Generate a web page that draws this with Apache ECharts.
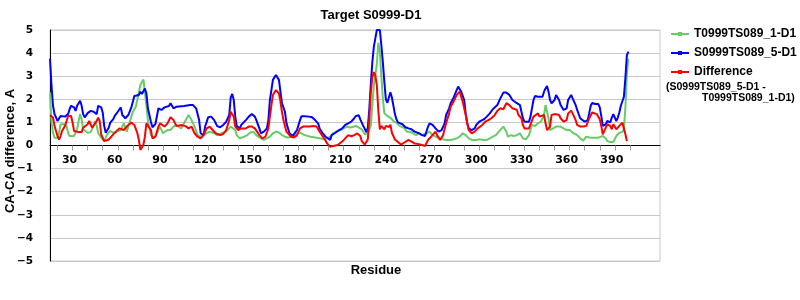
<!DOCTYPE html>
<html>
<head>
<meta charset="utf-8">
<script src="https://cdn.jsdelivr.net/npm/echarts@6/dist/echarts.min.js"></script>
<style>html,body{margin:0;padding:0;background:#fff;}#c{width:800px;height:300px;}</style>
</head>
<body>
<div id="c"></div>
<script>
const seriesNames = ['T0999TS089_1-D1', 'S0999TS089_5-D1', 'Difference'];
const xTickValues = [20,30,40,50,60,70,80,90,100,110,120,130,140,150,160,170,180,190,200,210,220,230,240,250,260,270,280,290,300,310,320,330,340,350,360,370,380,390,400];
const xLabelValues = [30,60,90,120,150,180,210,240,270,300,330,360,390];

// S0999TS089_5-D1 (blue): [residue, CA-CA distance]
const blueS5 = [[15,3.76],[16,2.6],[17,1.72],[18,1.36],[19,1.22],[20,1.06],[22,1.28],[25,1.25],[27,1.36],[28,1.57],[29,1.72],[31,1.65],[32,1.5],[33,1.72],[35,1.94],[36,1.72],[37,1.36],[38,1.22],[39,1.28],[40,1.4],[42,1.5],[44,1.46],[46,1.36],[47,1.72],[49,1.65],[50,1.43],[51,0.85],[52,0.55],[53,0.55],[54,0.77],[55,0.99],[57,1.14],[58,1.28],[60,1.46],[62,1.65],[63,1.32],[65,1.18],[67,1.32],[69,1.65],[71,2.14],[74,2.19],[75,2.33],[76,2.23],[78,2.47],[79,2.26],[80,1.61],[82,1.03],[83,0.79],[85,0.93],[87,1.61],[89,1.54],[91,1.65],[94,1.71],[95,1.83],[97,1.61],[99,1.68],[104,1.71],[108,1.75],[110,1.75],[112,1.61],[114,1.10],[115,0.53],[117,0.45],[118,0.82],[120,1.22],[122,1.25],[124,1.10],[126,0.84],[128,0.79],[130,0.89],[132,1.03],[134,1.32],[135,2.08],[136,2.23],[137,1.97],[138,1.25],[139,0.84],[141,0.74],[142,0.89],[145,1.10],[147,1.25],[149,1.36],[151,1.25],[152,1.10],[154,0.74],[155,0.53],[157,0.60],[159,0.74],[160,1.10],[161,1.97],[162,2.40],[163,2.84],[165,3.05],[166,3.12],[167,2.84],[168,2.33],[169,1.83],[171,1.46],[172,0.96],[174,0.53],[176,0.41],[177,0.45],[179,0.67],[181,1.10],[182,1.27],[184,1.27],[187,1.25],[189,1.22],[191,1.10],[193,0.96],[194,0.74],[196,0.53],[198,0.38],[199,0.31],[201,0.24],[202,0.45],[204,0.53],[207,0.67],[209,0.74],[211,0.89],[213,0.96],[215,1.03],[217,1.18],[218,1.28],[220,1.31],[221,1.13],[223,0.85],[225,0.58],[226,0.77],[227,1.57],[228,2.67],[229,3.6],[230,4.27],[231,4.64],[232,5.0],[233,5.0],[234,5.0],[235,4.34],[236,3.6],[237,2.74],[238,2.0],[239,1.85],[240,2.08],[241,2.3],[242,2.08],[243,1.72],[244,1.36],[245,1.14],[246,1.0],[249,0.92],[250,0.87],[251,0.79],[253,0.74],[255,0.70],[257,0.60],[260,0.53],[262,0.45],[264,0.41],[266,0.82],[267,0.96],[269,0.89],[271,0.74],[273,0.60],[275,0.67],[277,0.96],[278,1.32],[280,1.61],[281,1.83],[283,2.08],[285,2.40],[286,2.55],[287,2.47],[288,2.33],[290,1.97],[291,1.39],[292,0.96],[293,0.74],[295,0.67],[297,0.74],[298,0.89],[300,1.03],[303,1.13],[305,1.25],[307,1.39],[309,1.57],[312,1.75],[314,2.04],[316,2.29],[318,2.29],[320,2.19],[322,1.97],[323,2.04],[325,1.83],[327,1.75],[328,1.46],[329,1.18],[330,1.03],[333,1.03],[334,1.25],[336,1.97],[337,2.14],[339,2.11],[342,2.11],[343,2.33],[344,2.47],[345,2.58],[346,2.33],[347,1.97],[348,1.83],[350,1.97],[351,2.19],[353,1.97],[354,1.75],[356,1.54],[358,1.61],[359,1.97],[361,2.19],[362,2.04],[364,1.75],[365,1.54],[367,1.18],[368,1.10],[370,1.03],[372,1.10],[373,1.40],[374,1.72],[375,1.84],[376,1.9],[377,1.8],[378,1.72],[379,1.8],[380,1.65],[381,1.28],[382,0.85],[384,0.92],[385,1.06],[386,1.14],[387,1.0],[388,1.21],[389,1.36],[390,1.28],[391,1.06],[392,1.21],[393,1.43],[394,1.72],[395,1.75],[396,2.1],[397,2.9],[398,3.9],[399,4.06]];

// T0999TS089_1-D1 (green)
const greenT1 = [[15,2.3],[16,1.0],[17,0.55],[18,0.34],[20,0.34],[21,0.55],[22,0.92],[24,0.92],[26,0.85],[27,0.55],[28,0.41],[29,0.34],[31,0.41],[33,0.7],[34,1.06],[35,1.36],[36,1.14],[37,0.7],[38,0.63],[40,0.55],[42,0.58],[44,0.85],[45,1.06],[46,0.85],[47,0.55],[49,0.34],[51,0.19],[52,0.26],[53,0.48],[55,0.63],[57,0.55],[58,0.53],[62,0.67],[64,0.96],[66,0.60],[68,1.03],[70,1.46],[72,1.68],[75,2.62],[77,2.86],[79,1.75],[80,1.10],[82,0.45],[84,0.31],[86,0.53],[88,0.82],[90,0.53],[93,0.67],[95,0.67],[97,0.82],[99,0.89],[102,0.74],[104,0.96],[107,1.32],[109,1.10],[111,0.82],[113,0.45],[115,0.38],[117,0.45],[119,0.53],[121,0.60],[124,0.53],[126,0.45],[129,0.53],[132,0.60],[135,0.82],[136,0.89],[138,0.67],[139,0.45],[141,0.31],[144,0.38],[146,0.45],[148,0.56],[150,0.60],[152,0.45],[155,0.31],[157,0.24],[159,0.31],[161,0.38],[163,0.53],[165,0.60],[167,0.56],[169,0.45],[171,0.38],[173,0.35],[176,0.38],[179,0.53],[181,0.56],[184,0.45],[188,0.38],[191,0.35],[194,0.31],[197,0.27],[199,0.31],[201,0.38],[203,0.53],[205,0.60],[208,0.67],[210,0.74],[212,0.82],[214,0.78],[216,0.80],[218,0.85],[220,0.77],[222,0.70],[224,0.48],[226,0.55],[228,0.85],[229,1.72],[230,2.6],[231,3.03],[232,3.54],[233,4.45],[234,4.05],[235,3.0],[236,2.0],[237,1.4],[239,1.28],[241,1.2],[243,1.06],[245,0.99],[247,0.85],[250,0.77],[252,0.60],[254,0.60],[256,0.53],[258,0.45],[260,0.53],[262,0.45],[265,0.53],[267,0.60],[269,0.45],[272,0.35],[274,0.31],[276,0.27],[278,0.24],[281,0.24],[283,0.27],[285,0.31],[287,0.38],[289,0.53],[291,0.45],[293,0.31],[295,0.24],[298,0.24],[300,0.27],[303,0.24],[305,0.24],[307,0.31],[309,0.38],[311,0.45],[313,0.60],[314,0.67],[316,0.82],[317,0.89],[318,0.60],[319,0.38],[321,0.45],[323,0.41],[325,0.45],[327,0.53],[329,0.31],[331,0.27],[333,0.45],[335,0.89],[336,0.82],[337,0.84],[339,0.96],[341,1.03],[343,1.32],[344,1.75],[345,1.68],[346,1.18],[347,0.67],[348,0.60],[349,0.74],[351,0.82],[354,0.82],[356,0.74],[358,0.67],[360,0.67],[362,0.56],[365,0.45],[367,0.31],[369,0.21],[371,0.38],[374,0.34],[378,0.34],[380,0.36],[382,0.41],[384,0.30],[385,0.19],[387,0.15],[389,0.15],[390,0.19],[391,0.41],[393,0.55],[395,0.58],[396,0.70],[397,1.6],[398,3.1],[399,3.76]];

// Difference (red)
const redDiff = [[15,1.31],[16,1.36],[17,1.21],[18,0.85],[19,0.63],[20,0.41],[21,0.26],[22,0.41],[23,0.63],[25,0.85],[26,1.06],[27,1.28],[28,1.36],[29,1.28],[30,0.99],[31,0.63],[32,0.55],[34,0.58],[36,0.58],[37,0.77],[40,0.92],[41,1.06],[42,0.99],[43,0.77],[44,0.85],[46,1.06],[47,1.21],[48,1.06],[49,0.48],[51,0.19],[52,0.12],[54,0.26],[57,0.48],[61,0.74],[64,0.67],[67,0.89],[69,0.99],[71,0.89],[73,0.53],[74,0.24],[75,-0.19],[77,0.02],[78,0.38],[79,0.96],[80,1.03],[82,0.67],[83,0.31],[85,0.38],[87,0.82],[88,0.96],[91,0.82],[93,0.96],[95,1.22],[97,1.10],[99,0.84],[102,0.89],[105,0.84],[107,0.74],[109,0.82],[110,0.82],[111,0.53],[113,0.38],[115,0.31],[117,0.45],[119,0.74],[121,0.82],[123,0.67],[125,0.53],[128,0.45],[130,0.50],[132,0.67],[134,1.10],[135,1.46],[136,1.54],[137,1.25],[138,0.82],[140,0.67],[142,0.74],[145,0.74],[147,0.82],[149,0.82],[151,0.74],[154,0.45],[156,0.31],[158,0.38],[160,0.74],[161,1.25],[162,1.75],[163,2.19],[165,2.40],[166,2.47],[167,2.26],[168,1.90],[169,1.46],[170,1.10],[172,0.60],[175,0.38],[177,0.35],[179,0.45],[181,0.74],[183,0.82],[187,0.82],[190,0.84],[192,0.82],[194,0.60],[197,0.31],[199,0.09],[201,-0.05],[203,-0.02],[206,0.02],[209,0.17],[211,0.31],[213,0.45],[215,0.40],[217,0.45],[218,0.48],[219,0.52],[221,0.41],[222,0.19],[224,0.04],[226,0.26],[227,1.14],[228,2.3],[229,2.96],[230,3.18],[231,3.03],[232,2.6],[233,1.5],[234,0.7],[235,0.85],[236,0.77],[237,0.7],[238,0.85],[240,0.8],[241,0.9],[242,0.55],[243,0.41],[244,0.26],[246,0.15],[248,0.04],[250,0.12],[251,0.17],[253,0.24],[255,0.17],[257,0.09],[260,0.06],[262,0.02],[264,-0.02],[266,0.24],[267,0.31],[269,0.45],[271,0.60],[272,0.45],[274,0.24],[276,0.45],[278,0.96],[280,1.39],[281,1.68],[283,1.90],[285,2.19],[287,2.33],[288,2.26],[289,1.90],[291,1.32],[292,0.96],[293,0.67],[295,0.53],[297,0.60],[299,0.74],[302,0.89],[304,1.03],[306,1.10],[308,1.18],[310,1.30],[312,1.50],[314,1.61],[316,1.57],[317,1.65],[318,1.83],[319,1.90],[320,1.75],[322,1.61],[323,1.68],[325,1.54],[326,1.32],[328,1.18],[329,0.89],[330,0.74],[333,0.74],[334,0.82],[336,1.25],[337,1.32],[339,1.39],[340,1.25],[341,1.18],[343,1.32],[344,0.96],[345,0.67],[347,0.82],[348,1.32],[350,1.36],[353,1.32],[354,1.18],[356,1.03],[358,1.10],[359,1.39],[361,1.51],[362,1.39],[364,1.10],[365,0.89],[367,0.82],[369,0.82],[371,0.84],[373,1.18],[374,1.31],[375,1.43],[376,1.40],[378,1.36],[379,1.28],[380,1.14],[381,0.85],[382,0.48],[384,0.77],[385,0.92],[387,0.85],[388,0.70],[389,0.92],[390,0.85],[391,0.70],[392,0.70],[393,0.85],[395,0.99],[396,0.99],[397,0.50],[398,0.19]];

const colors = ['#66cc66', '#0000ff', '#ff0000'];
const textFont = "'Liberation Sans', Arial, sans-serif";
const tickFont = "'DejaVu Sans', sans-serif";

const chart = echarts.init(document.getElementById('c'), null, {renderer: 'canvas'});
const mkSeries = (name, data, color) => ({
  name: name, type: 'line', data: data, showSymbol: false, symbol: 'rect', symbolSize: 4,
  lineStyle: {color: color, width: 2}, itemStyle: {color: color}, animation: false
});
chart.setOption({
  animation: false,
  backgroundColor: '#ffffff',
  grid: {left: 50, right: 140, top: 30, bottom: 39, show: true, borderColor: '#c8c8c8', borderWidth: 1,
    containLabel: false, outerBoundsMode: 'none'},
  xAxis: {
    type: 'value', min: 15, max: 420, position: 'bottom', offset: -115.5,
    axisLine: {onZero: false, lineStyle: {color: '#000', width: 1}},
    axisTick: {show: true, customValues: xTickValues, length: 5, lineStyle: {color: '#999'}},
    axisLabel: {customValues: xLabelValues, color: '#000', fontFamily: tickFont, fontWeight: 'bold', fontSize: 11, margin: 9,
      padding: [0, 6, 0, 0]},
    splitLine: {show: false}
  },
  yAxis: {
    type: 'value', min: -5, max: 5, interval: 1,
    name: 'CA-CA difference, A', nameLocation: 'middle', nameGap: 33, nameRotate: 90, nameMoveOverlap: false,
    nameTextStyle: {color: '#000', fontFamily: textFont, fontWeight: 'bold', fontSize: 13, padding: [0, 11, 0, 0]},
    axisLine: {show: true, onZero: false, lineStyle: {color: '#000', width: 1}},
    axisTick: {show: false},
    axisLabel: {color: '#000', fontFamily: tickFont, fontWeight: 'bold', fontSize: 10.5, margin: 17,
      formatter: v => String(v).replace('-', '\u2212')},
    splitLine: {show: true, lineStyle: {color: '#c8c8c8', width: 1}}
  },
  legend: {
    orient: 'vertical', left: 670, top: 27, padding: 0, itemWidth: 18, itemHeight: 5, itemGap: 5,
    data: seriesNames,
    textStyle: {color: '#000', fontFamily: textFont, fontWeight: 'bold', fontSize: 12, lineHeight: 14}
  },
  graphic: [
    {type: 'text', x: 371, y: 15, style: {text: 'Target S0999-D1', align: 'center', verticalAlign: 'middle', font: "bold 13px " + textFont, fill: '#000'}},
    {type: 'text', x: 376, y: 270, style: {text: 'Residue', align: 'center', verticalAlign: 'middle', font: "bold 13px " + textFont, fill: '#000'}},
    {type: 'text', x: 666, y: 87, style: {text: '(S0999TS089_5-D1 -', align: 'left', verticalAlign: 'middle', font: "bold 10.5px " + textFont, fill: '#000'}},
    {type: 'text', x: 702, y: 98, style: {text: 'T0999TS089_1-D1)', align: 'left', verticalAlign: 'middle', font: "bold 10.5px " + textFont, fill: '#000'}}
  ],
  series: [
    mkSeries(seriesNames[0], greenT1, colors[0]),
    mkSeries(seriesNames[1], blueS5, colors[1]),
    mkSeries(seriesNames[2], redDiff, colors[2])
  ]
});
</script>
</body>
</html>
